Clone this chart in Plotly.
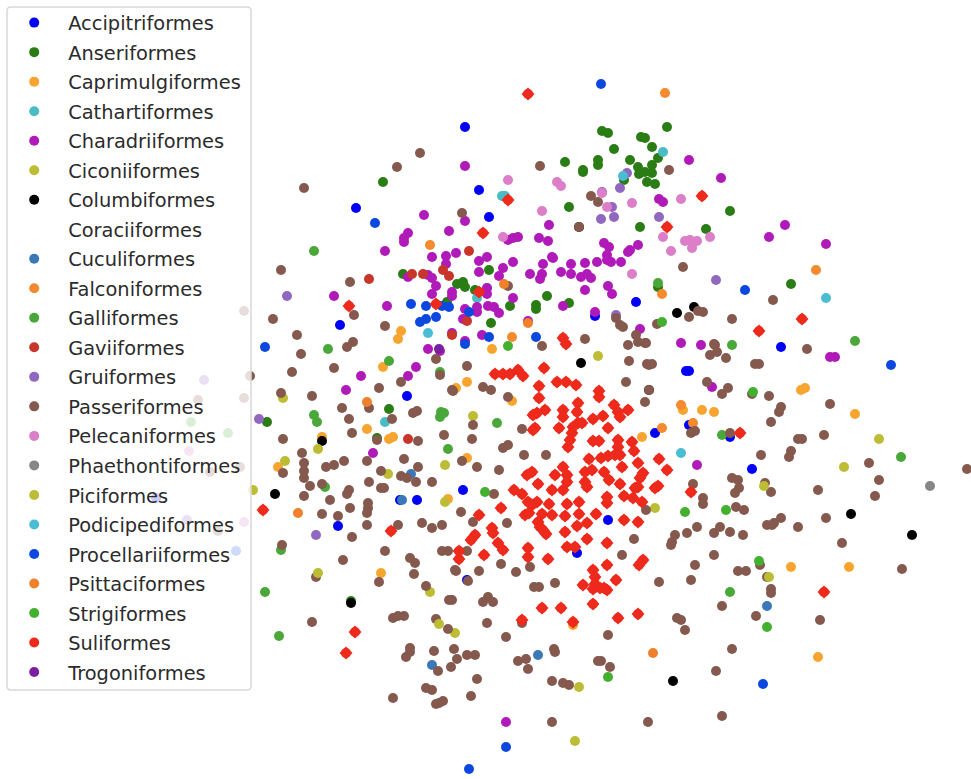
import plotly.graph_objects as go

orders = ["Accipitriformes","Anseriformes","Caprimulgiformes","Cathartiformes","Charadriiformes","Ciconiiformes","Columbiformes","Coraciiformes","Cuculiformes","Falconiformes","Galliformes","Gaviiformes","Gruiformes","Passeriformes","Pelecaniformes","Phaethontiformes","Piciformes","Podicipediformes","Procellariiformes","Psittaciformes","Strigiformes","Suliformes","Trogoniformes"]
colors = ["#0000f5","#2a7d14","#f8a52f","#4abcc4","#b01ab8","#bcbc35","#000000","#ffffff","#3a78b8","#f58a2e","#4aa83a","#c8352a","#9068c0","#85594d","#dc7ec8","#868686","#bcbc35","#4abcd4","#0c48e0","#f0802a","#44b030","#ee2a1c","#7a1fa0"]

Accipitriformes = [(465,127),(479,190),(489,217),(636,302),(595,316),(781,347),(686,371),(689,371),(655,433),(689,425),(730,437),(752,469),(407,396),(463,490),(417,500),(400,500),(338,526),(356,208),(340,325),(608,520),(577,553),(467,580),(156,498)]
Anseriformes = [(667,127),(602,131),(608,133),(641,137),(645,138),(652,147),(614,149),(565,162),(598,160),(598,165),(583,170),(583,172),(630,160),(658,158),(652,165),(638,167),(639,174),(645,172),(652,173),(647,182),(655,184),(624,180),(383,182),(569,207),(640,227),(706,229),(730,211),(658,287),(547,296),(569,303),(536,305),(536,309),(510,306),(489,270),(403,274),(457,284),(463,282),(465,287),(475,290),(447,302),(491,323),(791,284),(389,409),(267,422),(377,438),(351,601)]
Caprimulgiformes = [(401,331),(398,339),(383,367),(367,429),(389,439),(393,437),(467,458),(456,388),(278,467),(322,437),(448,499),(467,382),(683,410),(702,410),(714,412),(801,390),(805,388),(855,414),(642,437),(512,401),(381,573),(573,625),(791,567),(849,567),(818,657),(492,349)]
Cathartiformes = [(663,152),(502,196),(505,196),(487,288),(477,298),(385,422)]
Charadriiformes = [(465,166),(424,215),(465,221),(449,231),(408,233),(404,238),(404,242),(385,251),(432,257),(446,256),(456,253),(446,264),(479,261),(487,257),(513,262),(503,268),(479,272),(499,276),(508,240),(513,238),(518,237),(539,238),(548,241),(549,225),(552,257),(553,258),(543,264),(530,274),(542,274),(540,279),(561,272),(571,264),(571,274),(585,263),(581,277),(587,274),(591,278),(597,262),(604,243),(609,247),(607,255),(607,260),(611,262),(621,262),(628,252),(630,250),(638,245),(585,290),(608,286),(612,294),(689,160),(659,199),(663,202),(721,178),(408,277),(428,275),(432,278),(436,286),(432,294),(452,292),(452,296),(487,288),(487,294),(513,298),(387,306),(465,309),(477,307),(477,312),(488,306),(494,307),(499,313),(463,319),(563,306),(595,312),(640,329),(681,343),(701,345),(482,335),(465,341),(428,349),(440,351),(528,321),(452,333),(785,225),(769,237),(826,244),(830,357),(835,357),(712,387),(697,465),(416,367),(408,376),(361,376),(346,390),(373,453),(334,296),(506,722)]
Ciconiiformes = [(283,398),(253,490),(388,474),(445,465),(473,416),(655,508),(455,633),(879,439),(430,592),(579,687),(575,741)]
Columbiformes = [(677,313),(694,307),(581,363),(649,390),(322,441),(275,494),(851,514),(912,535),(673,681),(351,603),(579,227)]
Coraciiformes = [(120,740)]
Cuculiformes = [(411,474),(402,500),(432,665),(538,655),(767,606)]
Falconiformes = [(665,93),(430,245),(662,294),(816,270),(681,405),(693,423),(662,428),(512,337)]
Galliformes = [(314,251),(328,349),(389,361),(440,372),(314,415),(317,422),(441,412),(440,417),(444,413),(448,449),(281,550),(325,487),(497,423),(732,345),(855,341),(722,435),(901,457),(730,592),(265,592),(279,636),(191,422),(228,433),(658,283)]
Gaviiformes = [(412,274),(423,274),(469,251),(443,270),(449,276),(452,335),(467,321),(369,279),(408,439)]
Gruiformes = [(602,192),(627,173),(620,188),(612,207),(601,219),(614,217),(659,217),(716,280),(616,315),(287,296),(259,419),(316,535),(204,380),(187,520)]
Passeriformes = [(420,153),(397,167),(540,166),(669,170),(462,213),(591,196),(598,202),(579,227),(683,267),(508,286),(385,326),(616,318),(620,325),(623,327),(585,339),(542,346),(657,324),(689,317),(698,311),(703,312),(636,335),(638,342),(646,343),(628,345),(715,345),
(773,300),(732,319),(807,349),(645,343),(714,344),(717,352),(710,355),(726,358),(647,364),(652,364),(755,364),(759,364),(707,382),(728,388),(722,394),(752,394),(769,396),(649,390),(645,402),(830,404),(781,407),(779,412),(771,422),(824,435),(798,439),(802,439),(730,433),(695,431),(691,433),(791,451),(789,457),(761,455),(869,463),(967,469),(879,480),(875,496),(818,490),(771,492),(765,483),(732,478),(738,480),(739,488),(735,493),(693,484),(703,498),(703,504),(736,507),(744,510),(781,518),(826,518),
(646,510),(697,527),(687,533),(675,535),(672,542),(671,545),(714,533),(720,527),(730,532),(743,535),(767,525),(772,525),(774,523),(798,527),(842,543),(634,539),(622,555),(714,555),(695,565),(760,565),(738,571),(746,571),(691,580),(659,582),(767,577),(771,589),(771,593),(722,606),(756,616),(820,620),(902,569),(677,618),(681,620),(685,630),(608,635),(732,649),(601,661),(610,667),(716,671),(722,716),(648,722),
(467,366),(453,391),(483,387),(491,390),(508,397),(473,425),(472,439),(522,429),(503,448),(508,445),(524,455),(546,455),(462,461),(477,467),(499,470),(494,494),(461,512),(473,522),(507,523),(626,382),(649,365),(629,361),(467,551),(455,570),(479,571),(501,564),(516,572),(530,567),(468,581),(534,587),(539,587),(555,583),(483,602),(488,597),(493,602),(487,623),(522,623),(452,600),(506,637),
(301,354),(292,372),(334,368),(347,347),(353,342),(281,393),(312,396),(379,388),(401,382),(436,359),(440,375),(342,408),(369,408),(349,419),(392,419),(413,413),(417,411),(352,433),(283,439),(377,440),(418,441),(444,435),(452,390),(302,453),(304,463),(304,471),(304,478),(283,473),(326,467),(334,465),(344,461),(367,461),(404,459),(381,471),(418,467),(401,476),(407,478),(369,482),(381,488),(384,488),(416,482),(432,482),(310,486),(322,484),(349,490),(347,494),(304,496),(330,500),(368,503),(368,508),(367,513),(350,508),(322,514),(338,516),(398,525),(422,523),(432,528),(442,525),(367,525),(352,537),(282,545),(385,551),(442,551),(448,551),(343,560),
(410,558),(415,563),(414,574),(379,582),(316,577),(456,571),(426,586),(449,600),(393,618),(398,616),(404,616),(312,622),(436,619),(448,629),(410,648),(410,652),(406,657),(434,651),(454,649),(467,655),(475,655),(457,659),(451,667),(438,671),(518,661),(526,659),(528,669),(554,649),(555,652),(477,679),(552,681),(563,683),(569,685),(426,688),(432,690),(471,696),(393,698),(443,701),(439,703),(436,704),(552,722),(598,661),
(304,188),(281,270),(350,282),(273,319),(297,335),(354,315),(244,311),(250,376),(244,398),(198,400),(240,467),(210,472),(218,531)]
Pelecaniformes = [(508,180),(557,182),(561,186),(602,193),(542,211),(607,207),(632,203),(681,199),(503,237),(663,237),(671,251),(685,241),(690,240),(697,241),(692,248),(710,237),(632,274),(189,451),(244,522)]
Phaethontiformes = [(930,486)]
Piciformes = [(318,449),(285,461),(445,502),(844,467),(764,486),(318,573),(439,624),(769,577),(598,356)]
Podicipediformes = [(623,176),(428,333),(826,298),(681,453)]
Procellariiformes = [(601,84),(375,223),(265,347),(745,290),(891,365),(763,684),(506,747),(469,769),(411,304),(426,306),(442,306),(449,307),(420,322),(426,319),(436,317),(465,344),(469,312),(536,337),(489,337),(236,551)]
Psittaciformes = [(528,323),(504,284),(367,402),(298,513),(653,653)]
Strigiformes = [(662,322),(508,346),(753,392),(767,627),(759,561),(608,677),(685,512),(726,510),(485,492)]
Suliformes = [(495,374),(503,374),(510,374),(518,370),(523,376),(544,368),(539,386),(557,382),(566,382),(576,385),(599,391),(599,397),(539,398),(578,403),(577,412),(614,405),(628,410),(620,417),(618,412),(545,410),(537,413),(533,415),(563,410),(563,417),(593,419),(603,416),(608,428),(559,428),(535,428),(533,430),(578,423),(573,427),(582,423),(572,433),(570,440),(568,447),(593,441),(599,441),(618,440),(618,447),(632,442),(634,451),(589,459),(601,458),(608,456),(615,455),(620,455),(638,463),(659,459),(667,470),(622,467),(563,467),(567,475),(567,482),(563,490),(555,475),(527,475),(532,472),(538,484),(552,490),(585,472),(592,470),(585,482),(587,487),(604,472),(609,480),(643,473),(640,478),(620,484),(638,487),(635,488),(658,486),(655,488),(514,490),(522,494),(528,502),(537,502),(532,505),(549,504),(567,504),(579,502),(607,497),(607,503),(624,496),(633,498),(642,502),(525,515),(529,513),(565,516),(579,514),(596,514),(542,514),(552,515),(538,522),(540,527),(543,530),(546,534),(577,526),(587,523),(624,520),(638,522),(501,508),(479,515),(492,528),(493,533),(565,532),(475,535),(471,540),(587,539),(607,543),(498,543),(503,550),(567,547),(575,547),(528,548),(528,557),(459,551),(459,559),(484,555),(548,559),(607,565),(643,560),(639,565),(593,570),(595,577),(595,584),(600,588),(593,589),(607,590),(604,588),(616,580),(583,585),(593,604),(542,608),(561,608),(522,620),(573,622),(618,618),(638,614),
(528,94),(508,200),(702,196),(667,227),(483,233),(436,304),(479,292),(563,338),(566,344),(759,331),(802,319),(740,433),(691,492),(263,510),(391,531),(349,306),(355,632),(346,653),(824,592)]
Trogoniformes = [(439,349)]

points = [Accipitriformes,Anseriformes,Caprimulgiformes,Cathartiformes,Charadriiformes,Ciconiiformes,Columbiformes,Coraciiformes,Cuculiformes,Falconiformes,Galliformes,Gaviiformes,Gruiformes,Passeriformes,Pelecaniformes,Phaethontiformes,Piciformes,Podicipediformes,Procellariiformes,Psittaciformes,Strigiformes,Suliformes,Trogoniformes]

fig = go.Figure()
for name, col, pts in zip(orders, colors, points):
    xs = [p[0] for p in pts]
    ys = [p[1] for p in pts]
    fig.add_trace(go.Scatter(
        x=xs, y=ys, mode="markers", name=name, legendgroup=name,
        marker=dict(color=col, size=10, line=dict(width=0)),
    ))
    if name == "Suliformes":
        fig.add_trace(go.Scatter(
            x=xs, y=ys, mode="markers", name=name, legendgroup=name, showlegend=False,
            marker=dict(color=col, size=10, symbol="diamond", line=dict(width=0)),
        ))

fig.add_shape(type="path", xref="x", yref="y",
              path="M 11 7 L 247 7 Q 251 7 251 11 L 251 686 Q 251 690 247 690 L 11 690 Q 7 690 7 686 L 7 11 Q 7 7 11 7 Z",
              line=dict(color="#d8d8d8", width=1.5), fillcolor="rgba(255,255,255,0.8)", layer="above")

fig.update_layout(
    width=971, height=779, autosize=False,
    margin=dict(l=0, r=0, t=0, b=0),
    paper_bgcolor="white", plot_bgcolor="white",
    xaxis=dict(range=[0, 971], visible=False, fixedrange=True),
    yaxis=dict(range=[779, 0], visible=False, fixedrange=True),
    font=dict(family="DejaVu Sans", color="#2b2b2b"),
    legend=dict(
        x=0.2/971, y=1-3.5/779, xanchor="left", yanchor="top",
        bgcolor="rgba(0,0,0,0)", borderwidth=0,
        font=dict(size=19.4, family="DejaVu Sans", color="#2b2b2b"),
        traceorder="grouped", tracegroupgap=1.3, itemwidth=58,
        itemclick=False, itemdoubleclick=False,
    ),
)
fig.write_html("out.html", config=dict(displayModeBar=False),
               post_script="document.body.style.margin='0';window.dispatchEvent(new Event('resize'));")
